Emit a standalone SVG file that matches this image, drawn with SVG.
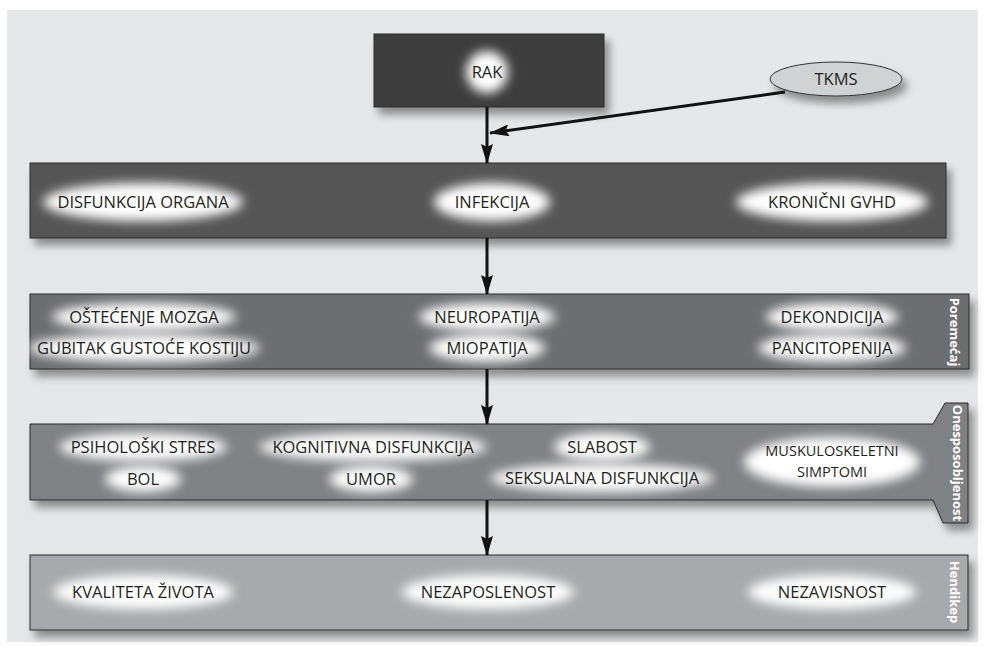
<svg xmlns="http://www.w3.org/2000/svg" width="984" height="647" viewBox="0 0 984 647">
<defs>
<filter id="shadow" x="-10%" y="-30%" width="125%" height="170%">
<feDropShadow dx="5" dy="7" stdDeviation="4.5" flood-color="#000" flood-opacity="0.4"/>
</filter>
<filter id="glow" x="-50%" y="-80%" width="200%" height="260%">
<feGaussianBlur stdDeviation="5.5"/>
</filter>
<marker id="ah" markerUnits="userSpaceOnUse" markerWidth="20" markerHeight="12" refX="19" refY="6" orient="auto">
<path d="M0,0 L20,6 L0,12 L3,6 z" fill="#111"/>
</marker>
<style>
.lbl{font-family:"Open Sans","Noto Sans","Liberation Sans",sans-serif;font-size:16.5px;fill:#231f20;text-anchor:middle}
.sm{font-size:14.5px}
.side{font-family:"Open Sans","Noto Sans","Liberation Sans",sans-serif;font-size:13px;font-weight:bold;fill:#fff;text-anchor:middle}
.g{fill:#fff;filter:url(#glow)}
.box{stroke:#2a2a2a;stroke-width:1;filter:url(#shadow)}
.conn{stroke:#111;stroke-width:3;fill:none;marker-end:url(#ah)}
</style>
</defs>
<rect x="7" y="10" width="971" height="632" fill="#e6e7e8"/>

<g id="rak">
<rect class="box" x="374" y="34" width="230" height="73" fill="#3e3e3e"/>
<circle class="g" cx="487" cy="72" r="21"/>
<text class="lbl" x="487" y="78">RAK</text>
</g>

<g id="tkms">
<ellipse cx="836" cy="79" rx="66" ry="17" fill="#d1d2d4" stroke="#333" stroke-width="1" filter="url(#shadow)"/>
<text class="lbl" x="836" y="85">TKMS</text>
</g>

<g id="box1">
<rect class="box" x="30" y="163" width="916" height="75" fill="#545557"/>
<ellipse class="g" cx="143" cy="202" rx="100" ry="19"/>
<text class="lbl" x="143" y="208">DISFUNKCIJA ORGANA</text>
<ellipse class="g" cx="492" cy="202" rx="58" ry="19"/>
<text class="lbl" x="492" y="208">INFEKCIJA</text>
<ellipse class="g" cx="832" cy="202" rx="96" ry="19"/>
<text class="lbl" x="832" y="208">KRONIČNI GVHD</text>
</g>

<g id="poremecaj">
<rect class="box" x="30" y="294" width="939" height="75" fill="#6d6e71"/>
<ellipse class="g" cx="144" cy="317" rx="92" ry="14"/>
<ellipse class="g" cx="144" cy="348" rx="116" ry="14"/>
<text class="lbl" x="144" y="323">OŠTEĆENJE MOZGA</text>
<text class="lbl" x="144" y="354">GUBITAK GUSTOĆE KOSTIJU</text>
<ellipse class="g" cx="487" cy="317" rx="68" ry="14"/>
<ellipse class="g" cx="487" cy="348" rx="58" ry="14"/>
<text class="lbl" x="487" y="323">NEUROPATIJA</text>
<text class="lbl" x="487" y="354">MIOPATIJA</text>
<ellipse class="g" cx="832" cy="317" rx="66" ry="14"/>
<ellipse class="g" cx="832" cy="348" rx="74" ry="14"/>
<text class="lbl" x="832" y="323">DEKONDICIJA</text>
<text class="lbl" x="832" y="354">PANCITOPENIJA</text>
<text class="side" transform="translate(950,332) rotate(90)">Poremećaj</text>
</g>

<g id="onesposobljenost">
<path class="box" d="M30,424 L933,424 L945,403 L968,403 L968,523 L943,523 L933,500 L30,500 Z" fill="#808184"/>
<ellipse class="g" cx="143" cy="447" rx="84" ry="14"/>
<ellipse class="g" cx="143" cy="479" rx="38" ry="13"/>
<text class="lbl" x="143" y="453">PSIHOLOŠKI STRES</text>
<text class="lbl" x="143" y="485">BOL</text>
<ellipse class="g" cx="373" cy="447" rx="114" ry="14"/>
<ellipse class="g" cx="371" cy="479" rx="42" ry="13"/>
<text class="lbl" x="373" y="453">KOGNITIVNA DISFUNKCIJA</text>
<text class="lbl" x="371" y="485">UMOR</text>
<ellipse class="g" cx="602" cy="447" rx="48" ry="14"/>
<ellipse class="g" cx="602" cy="478" rx="112" ry="14"/>
<text class="lbl" x="602" y="453">SLABOST</text>
<text class="lbl" x="602" y="484">SEKSUALNA DISFUNKCIJA</text>
<ellipse class="g" cx="832" cy="462" rx="88" ry="25"/>
<text class="lbl sm" x="832" y="456">MUSKULOSKELETNI</text>
<text class="lbl sm" x="832" y="477">SIMPTOMI</text>
<text class="side" transform="translate(953,463) rotate(90)">Onesposobljenost</text>
</g>

<g id="hendikep">
<rect class="box" x="30" y="555" width="938" height="75" fill="#a7a9ac"/>
<ellipse class="g" cx="143" cy="592" rx="90" ry="17"/>
<text class="lbl" x="143" y="598">KVALITETA ŽIVOTA</text>
<ellipse class="g" cx="488" cy="592" rx="86" ry="17"/>
<text class="lbl" x="488" y="598">NEZAPOSLENOST</text>
<ellipse class="g" cx="832" cy="592" rx="84" ry="17"/>
<text class="lbl" x="832" y="598">NEZAVISNOST</text>
<text class="side" transform="translate(950,592) rotate(90)">Hendikep</text>
</g>

<g id="connectors">
<line class="conn" x1="487" y1="107" x2="487" y2="163"/>
<line class="conn" x1="785" y1="92" x2="490" y2="133"/>
<line class="conn" x1="487" y1="238" x2="487" y2="294"/>
<line class="conn" x1="487" y1="369" x2="487" y2="424"/>
<line class="conn" x1="487" y1="500" x2="487" y2="555"/>
</g>
</svg>
